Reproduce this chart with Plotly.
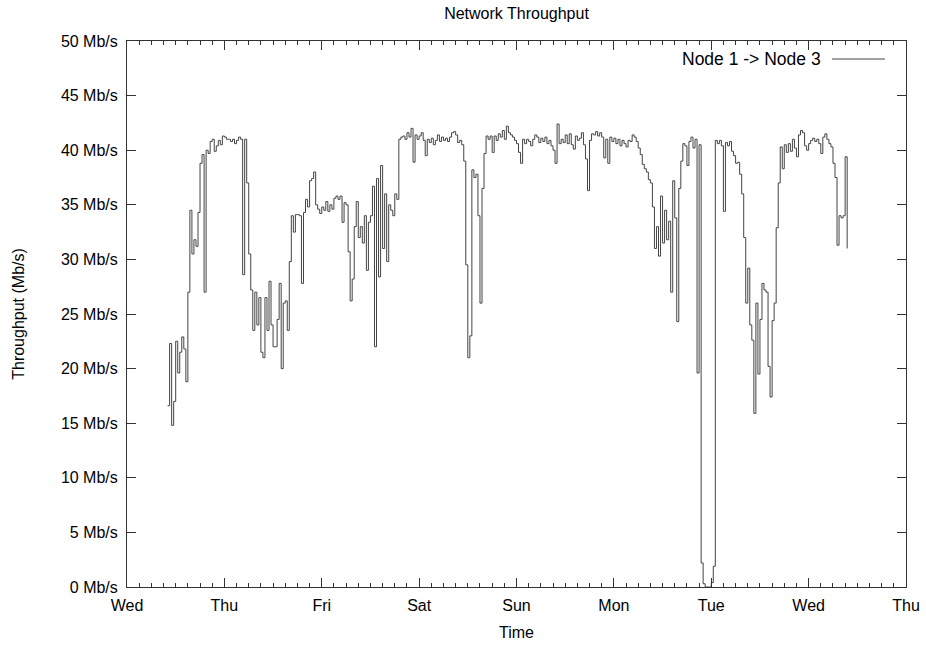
import pandas as pd
import plotly.graph_objects as go

# Samples every 30 minutes starting Wednesday 10:00
start_time = "2008-01-02 10:00"  # a Wednesday
throughput = [
    16.6, 22.3, 14.8, 17.0, 22.5, 19.6, 21.5, 22.9, 21.8, 18.8,
    27.0, 34.5, 30.5, 31.8, 31.2, 34.3, 38.8, 39.6, 27.0, 40.0,
    39.7, 40.8, 41.0, 39.9, 40.4, 40.9, 40.5, 41.3, 41.2, 41.0,
    41.0, 40.8, 41.0, 40.6, 40.9, 41.2, 41.0, 28.6, 41.0, 37.0,
    30.5, 27.2, 23.5, 27.0, 24.0, 26.5, 21.5, 21.0, 26.5, 23.5,
    28.0, 24.0, 22.0, 22.0, 24.5, 27.8, 20.0, 26.0, 26.2, 23.5,
    29.8, 34.0, 32.5, 34.1, 34.1, 34.0, 27.8, 34.3, 35.5, 34.8,
    37.2, 37.4, 38.0, 35.0, 34.6, 34.2, 34.8, 34.5, 35.3, 34.4,
    35.0, 34.6, 35.6, 35.8, 35.5, 35.8, 33.4, 35.2, 35.0, 30.7,
    26.2, 28.2, 33.0, 35.3, 32.0, 33.0, 31.5, 34.0, 29.0, 33.4,
    34.0, 36.7, 22.0, 37.4, 28.4, 38.6, 31.0, 36.0, 29.8, 35.0,
    34.5, 34.0, 36.0, 35.5, 41.0, 41.2, 41.3, 41.0, 41.6, 41.2,
    42.0, 38.9, 41.4, 41.0, 41.3, 41.6, 40.9, 39.5, 41.0, 40.7,
    41.1, 40.5, 40.9, 41.4, 40.8, 41.2, 40.9, 41.1, 40.8, 41.2,
    41.6, 41.7, 41.4, 40.7, 40.9, 40.5, 39.0, 29.5, 21.0, 23.0,
    38.2, 37.5, 37.8, 34.0, 26.0, 36.5, 39.7, 41.3, 41.0, 41.3,
    39.8, 41.3, 40.9, 41.5, 41.2, 41.8, 41.0, 42.2, 41.6, 41.4,
    41.2, 40.9, 40.6, 39.8, 38.8, 41.0, 40.6, 41.0, 40.8, 40.4,
    41.0, 41.4, 41.2, 40.7, 41.1, 40.8, 41.2, 40.6, 40.9, 40.4,
    40.0, 38.8, 42.4, 40.6, 41.0, 40.7, 41.4, 40.6, 41.5, 40.5,
    40.1, 41.3, 40.9, 41.1, 41.6, 40.5, 39.2, 36.3, 40.9, 41.5,
    41.4, 41.7, 41.3, 41.6, 41.2, 39.3, 41.0, 38.8, 41.2, 40.8,
    41.1, 40.6, 41.0, 40.4, 40.9, 40.6, 40.3, 40.9, 40.8, 41.4,
    41.2, 40.8, 40.2, 39.6, 38.7, 38.3, 38.0, 37.3, 37.0, 34.8,
    31.0, 33.0, 30.3, 35.8, 31.5, 34.5, 31.8, 33.5, 27.0, 37.2,
    33.8, 24.3, 36.5, 39.0, 40.6, 40.4, 38.6, 40.8, 41.2, 40.2,
    41.0, 19.6, 40.5, 2.2, 0.3, 0.0, 0.0, 0.0, 0.4, 1.9,
    40.9, 40.6, 40.9, 40.4, 34.4, 40.7, 40.4, 40.8, 39.9, 39.5,
    38.8, 38.9, 37.8, 36.0, 32.0, 26.0, 29.2, 24.0, 22.6, 15.9,
    26.0, 19.5, 24.5, 27.8, 27.2, 27.0, 20.2, 17.4, 24.4, 26.0,
    32.9, 37.0, 40.3, 38.3, 40.5, 39.8, 40.6, 39.9, 41.0, 40.2,
    39.4, 41.4, 41.8, 41.6, 40.4, 40.0, 40.6, 40.9, 41.1, 40.8,
    41.0, 40.6, 39.7, 41.2, 41.5, 41.0, 40.6, 40.3, 38.8, 37.5,
    31.3, 34.0, 33.8, 34.0, 39.4, 31.0,
]
times = pd.date_range(start_time, periods=len(throughput), freq="30min")

x_range = ["2008-01-02 00:00", "2008-01-10 00:00"]
day_ticks = pd.date_range(x_range[0], x_range[1], freq="1D")
day_labels = [d.strftime("%a") for d in day_ticks]
minor_ticks = pd.date_range(x_range[0], x_range[1], freq="3h")
y_ticks = list(range(0, 51, 5))
y_labels = [f"{v} Mb/s" for v in y_ticks]

series_name = "Node 1 -> Node 3"
line_color = "#444444"
font_family = "Liberation Sans, Arial, sans-serif"

fig = go.Figure()
fig.add_trace(go.Scatter(
    x=times, y=throughput, mode="lines", line_shape="hv",
    line=dict(color=line_color, width=1), name=series_name, showlegend=False,
))

axis_common = dict(
    showline=True, linecolor="#333333", linewidth=1, mirror="ticks",
    ticks="inside", tickcolor="#333333", tickwidth=1, ticklen=9,
    showgrid=False, zeroline=False, automargin=False,
    tickfont=dict(family=font_family, size=16, color="black"),
)

fig.update_layout(
    width=926, height=645,
    margin=dict(l=127, r=20, t=41, b=58),
    paper_bgcolor="white", plot_bgcolor="white",
    title=dict(text="Network Throughput", x=0.5, xref="paper",
               xanchor="center", y=1 - 13 / 645, yanchor="middle",
               font=dict(family=font_family, size=16, color="black")),
    xaxis=dict(
        range=x_range, tickmode="array", tickvals=day_ticks, ticktext=day_labels,
        ticklabelstandoff=4,
        title=dict(text="Time", font=dict(family=font_family, size=16, color="black"), standoff=13),
        minor=dict(tickmode="array", tickvals=minor_ticks, ticks="inside", ticklen=4,
                   tickcolor="#333333", tickwidth=1),
        **axis_common,
    ),
    yaxis=dict(
        range=[0, 50], tickmode="array", tickvals=y_ticks, ticktext=y_labels,
        ticklabelstandoff=5,
        title=dict(text="Throughput (Mb/s)", font=dict(family=font_family, size=16, color="black"), standoff=32),
        **axis_common,
    ),
)

# gnuplot-style key: label followed by line sample, top right inside the plot
fig.add_annotation(
    x=0.893, y=0.967, xref="paper", yref="paper", text=series_name,
    showarrow=False, xanchor="right", yanchor="middle",
    font=dict(family=font_family, size=17.5, color="black"),
)
fig.add_shape(
    type="line", xref="paper", yref="paper", x0=0.905, x1=0.973, y0=0.967, y1=0.967,
    line=dict(color=line_color, width=1),
)

fig.write_html("out.html")
